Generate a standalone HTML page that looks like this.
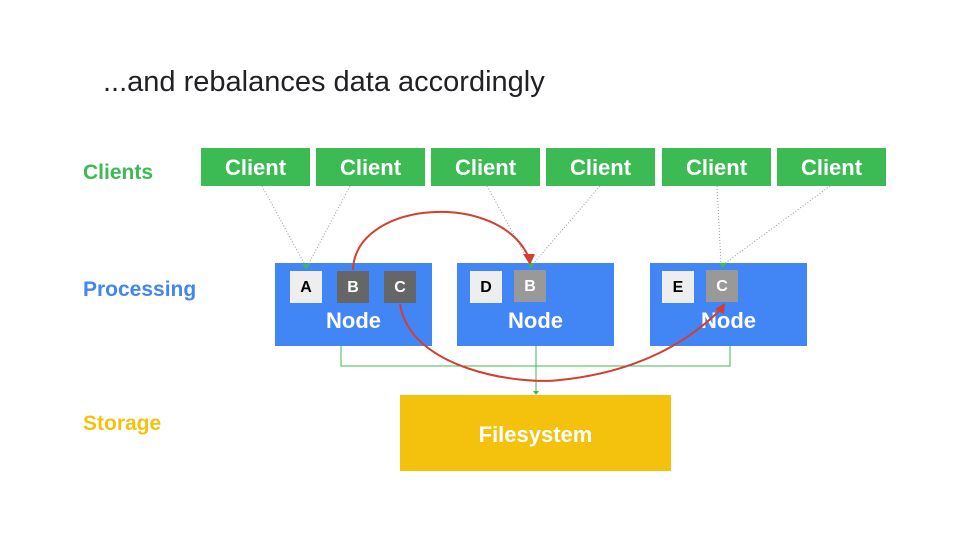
<!DOCTYPE html>
<html><head><style>
body{margin:0;width:960px;height:540px;background:#fff;position:relative;overflow:hidden;font-family:"Liberation Sans",sans-serif}
.a{position:absolute}
.t{left:103px;top:66px;font-size:29px;color:#202124}
.lab{font-size:21px;font-weight:bold;left:83px}
.cl{background:#3cba54;color:#fff;font-weight:bold;font-size:22px;text-align:center;line-height:40px;top:148px;width:109px;height:38px}
.nd{background:#4285f4;top:263px;width:157px;height:83px}
.nd span{position:absolute;left:0;right:0;top:45px;text-align:center;color:#fff;font-weight:bold;font-size:22px}
.tl{width:32px;height:32px;line-height:33px;text-align:center;font-weight:bold;font-size:16px}
.w{background:#eeeeee;color:#000}.dk{background:#666;color:#fff}.gr{background:#999;color:#fff}
</style></head><body>
<div class="a t">...and rebalances data accordingly</div>
<div class="a lab" style="top:161px;color:#3cba54">Clients</div>
<div class="a lab" style="top:278px;color:#4285f4">Processing</div>
<div class="a lab" style="top:412px;color:#f4c20d">Storage</div>
<div class="a cl" style="left:201px">Client</div>
<div class="a cl" style="left:316px">Client</div>
<div class="a cl" style="left:431px">Client</div>
<div class="a cl" style="left:546px">Client</div>
<div class="a cl" style="left:662px">Client</div>
<div class="a cl" style="left:777px">Client</div>
<div class="a nd" style="left:275px"><span>Node</span></div>
<div class="a nd" style="left:457px"><span>Node</span></div>
<div class="a nd" style="left:650px"><span>Node</span></div>
<div class="a tl w" style="left:290px;top:271px">A</div>
<div class="a tl dk" style="left:337px;top:271px">B</div>
<div class="a tl dk" style="left:384px;top:271px">C</div>
<div class="a tl w" style="left:470px;top:271px">D</div>
<div class="a tl gr" style="left:514px;top:270px">B</div>
<div class="a tl w" style="left:662px;top:271px">E</div>
<div class="a tl gr" style="left:706px;top:270px">C</div>
<div class="a" style="left:400px;top:395px;width:271px;height:76px;background:#f4c20d;color:#fff;font-weight:bold;font-size:22px;text-align:center;line-height:80px">Filesystem</div>
<svg class="a" style="left:0;top:0" width="960" height="540">
<g stroke="#999" stroke-width="1" stroke-dasharray="1,2" fill="none">
<line x1="262" y1="186" x2="305" y2="265"/><line x1="350" y1="186" x2="308" y2="265"/>
<line x1="487" y1="186" x2="530" y2="264"/><line x1="600" y1="186" x2="533" y2="264"/>
<line x1="717" y1="186" x2="721" y2="264"/><line x1="830" y1="186" x2="724" y2="264"/>
</g>
<g fill="#3cba54"><path d="M302 264 l4 5 l4 -5z"/><path d="M527 263 l4 5 l4 -5z"/><path d="M719 263 l4 5 l4 -5z"/></g>
<g stroke="#3cba54" stroke-width="1" fill="none">
<polyline points="341,346 341,366 730,366 730,346"/><line x1="536" y1="346" x2="536" y2="393"/>
</g>
<path d="M533 391 l3 4 l3 -4z" fill="#3cba54"/>
<g stroke="#d23f31" stroke-width="2" fill="none">
<path d="M353 270 C355 200 500 190 529 258"/>
<path d="M400 304 C410 370 520 385 560 380 C640 372 690 340 720 310"/>
</g>
<g fill="#d23f31"><path d="M523 254 l12 0 l-5 11z"/><path d="M715 309 l10 -6 l-1 11z"/></g>
</svg>
</body></html>
